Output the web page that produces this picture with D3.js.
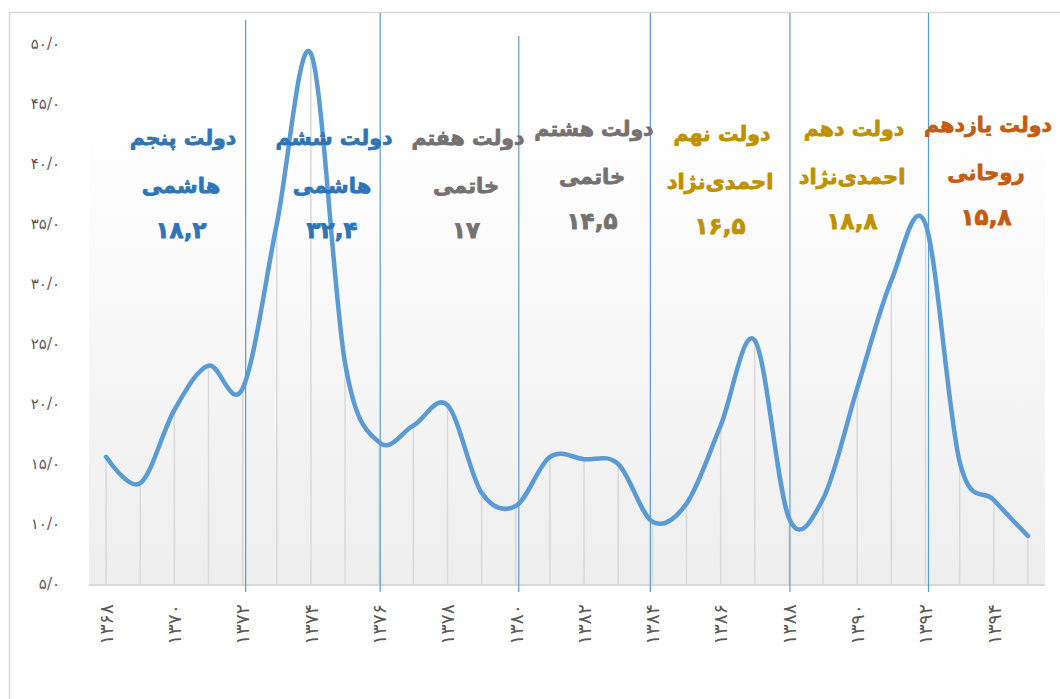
<!DOCTYPE html>
<html>
<head>
<meta charset="utf-8">
<script src="https://cdn.jsdelivr.net/npm/d3@7"></script>
<style>
  html, body { margin: 0; padding: 0; background: #ffffff; }
  svg { display: block; }
</style>
</head>
<body>
<svg id="chart" width="1060" height="699"></svg>
<script>
// ---------------- data ----------------
const years = [1368,1369,1370,1371,1372,1373,1374,1375,1376,1377,1378,1379,1380,1381,
               1382,1383,1384,1385,1386,1387,1388,1389,1390,1391,1392,1393,1394,1395];
const inflation = [15.6,13.4,19.5,23.2,21.3,35.0,49.2,23.4,16.8,18.2,19.9,12.6,11.5,15.6,
                   15.4,15.0,10.2,11.7,18.2,25.3,10.5,12.1,21.3,30.3,35.0,15.2,12.0,9.0];
const yTicks = [5,10,15,20,25,30,35,40,45,50];
const xTickYears = [1368,1370,1372,1374,1376,1378,1380,1382,1384,1386,1388,1390,1392,1394];
const boundaryYears = [1372,1376,1380,1384,1388,1392];
const govTitles = ["دولت پنجم","دولت ششم","دولت هفتم","دولت هشتم","دولت نهم","دولت دهم","دولت یازدهم"];
const govNames  = ["هاشمی","هاشمی","خاتمی","خاتمی","احمدی\u200Cنژاد","احمدی\u200Cنژاد","روحانی"];
const govAvg    = [18.2, 32.4, 17, 14.5, 16.5, 18.8, 15.8];

// ---------------- helpers ----------------
const faDigits = "۰۱۲۳۴۵۶۷۸۹";
const toFa = s => String(s).replace(/[0-9]/g, d => faDigits[+d]);

// ---------------- layout ----------------
const svg = d3.select("#chart");
const plot = {left: 89, right: 1045, top: 117, bottom: 585};

const x = d3.scaleBand().domain(years).range([plot.left, plot.right]);
const cx = yr => x(yr) + x.bandwidth() / 2;
const y = d3.scaleLinear().domain([5, 50]).range([584, 44]);

// outer border
svg.append("rect")
  .attr("x", 9.5).attr("y", 12.5).attr("width", 1100).attr("height", 800)
  .attr("fill", "none").attr("stroke", "#d9d9d9").attr("stroke-width", 1.5);

// plot-area gradient
const defs = svg.append("defs");
const grad = defs.append("linearGradient").attr("id", "bg")
  .attr("x1", 0).attr("y1", 0).attr("x2", 0).attr("y2", 1);
grad.append("stop").attr("offset", "0%").attr("stop-color", "#ffffff");
grad.append("stop").attr("offset", "100%").attr("stop-color", "#eeeeee");
svg.append("rect")
  .attr("x", plot.left).attr("y", plot.top)
  .attr("width", plot.right - plot.left).attr("height", plot.bottom - plot.top)
  .attr("fill", "url(#bg)");

// drop lines
svg.append("g").selectAll("line").data(years).join("line")
  .attr("x1", d => cx(d)).attr("x2", d => cx(d))
  .attr("y1", (d, i) => y(inflation[i])).attr("y2", plot.bottom)
  .attr("stroke", "#d9d9d9").attr("stroke-width", 1.5);

// x-axis baseline
svg.append("line")
  .attr("x1", plot.left).attr("x2", plot.right)
  .attr("y1", plot.bottom).attr("y2", plot.bottom)
  .attr("stroke", "#d9d9d9").attr("stroke-width", 2);

// government boundary lines
const bOffsets = [3, 1, 3, -2, 1, 3];
const bTops = [20, 13, 36, 13, 13, 13];
svg.append("g").selectAll("line").data(boundaryYears).join("line")
  .attr("x1", (d, i) => cx(d) + bOffsets[i]).attr("x2", (d, i) => cx(d) + bOffsets[i])
  .attr("y1", (d, i) => bTops[i]).attr("y2", 592)
  .attr("stroke", "#5b9bd5").attr("stroke-width", 1.2);

// y axis
const yAxis = d3.axisLeft(y).tickValues(yTicks).tickSize(0).tickPadding(29)
  .tickFormat(d => toFa(d) + "/۰");
const gy = svg.append("g").attr("transform", `translate(${plot.left},0)`).call(yAxis);
gy.select(".domain").remove();
gy.selectAll("text")
  .attr("font-family", "DejaVu Sans").attr("font-size", 15).attr("fill", "#595959");

// x axis
const xAxis = d3.axisBottom(x).tickValues(xTickYears).tickSize(0).tickFormat(d => toFa(d));
const gx = svg.append("g").attr("transform", `translate(0,${plot.bottom})`).call(xAxis);
gx.select(".domain").remove();
gx.selectAll("text")
  .attr("font-family", "DejaVu Sans").attr("font-size", 19).attr("fill", "#595959")
  .attr("text-anchor", "end")
  .attr("transform", "rotate(-90)")
  .attr("x", -19).attr("y", 0).attr("dy", "0.36em");

// line
const line = d3.line()
  .x((d, i) => cx(years[i]))
  .y(d => y(d))
  .curve(d3.curveCatmullRom.alpha(0));
svg.append("path").datum(inflation)
  .attr("d", line).attr("fill", "none")
  .attr("stroke", "#5b9bd5").attr("stroke-width", 4.5)
  .attr("stroke-linejoin", "round").attr("stroke-linecap", "round");

// government annotations
const govColors = ["#2e75b6","#2e75b6","#767171","#767171","#bf9000","#bf9000","#c55a11"];
const govX = [183, 334, 468, 594, 722, 854, 988];
const govY = [145, 145, 145, 136, 141, 136, 132];
const g = svg.append("g").attr("font-family", "DejaVu Sans").attr("font-weight", "bold")
  .attr("text-anchor", "middle").attr("stroke-linejoin", "round");
govTitles.forEach((t, i) => {
  const grp = g.append("g").attr("fill", govColors[i])
    .attr("stroke", govColors[i]).attr("stroke-width", 0.8);
  grp.append("text").attr("x", govX[i]).attr("y", govY[i]).attr("font-size", 20.5).text(t);
  grp.append("text").attr("x", govX[i] - 2).attr("y", govY[i] + 48).attr("font-size", 21).text(govNames[i]);
  grp.append("text").attr("x", govX[i] - 2).attr("y", govY[i] + 93).attr("font-size", 23)
    .text(toFa(String(govAvg[i]).replace(".", ",")));
});
</script>
</body>
</html>
